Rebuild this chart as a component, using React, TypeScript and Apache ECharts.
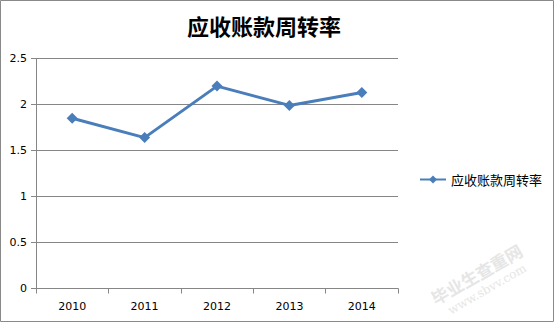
import React, { useEffect, useRef } from "react";
import * as echarts from "echarts";

const title = "应收账款周转率";
const categories = ["2010", "2011", "2012", "2013", "2014"];
const seriesName = "应收账款周转率";
const values = [1.85, 1.64, 2.2, 1.99, 2.13];
const yTicks = { min: 0, max: 2.5, interval: 0.5 };

export default function App() {
  const ref = useRef<HTMLDivElement>(null);
  useEffect(() => {
    if (!ref.current) return;
    const chart = echarts.init(ref.current, undefined, { renderer: "svg" });
    chart.setOption({
      animation: false,
      backgroundColor: "#ffffff",
      title: {
        text: title,
        left: 182,
        top: 9,
        textStyle: { fontFamily: "Noto Sans CJK SC", fontSize: 22, fontWeight: "bold", color: "#000" },
      },
      legend: {
        data: [seriesName],
        orient: "vertical",
        left: 414,
        top: 168,
        itemWidth: 26,
        itemHeight: 10,
        itemGap: 6,
        textStyle: { fontFamily: "Noto Sans CJK SC", fontSize: 13, color: "#000" },
      },
      grid: { left: 36, top: 58.5, width: 362, height: 230, containLabel: false },
      xAxis: {
        type: "category",
        data: categories,
        boundaryGap: true,
        axisLine: { lineStyle: { color: "#868686", width: 1 } },
        axisTick: { show: true, length: 5, lineStyle: { color: "#868686" } },
        axisLabel: { color: "#000", fontSize: 11, fontFamily: "DejaVu Sans", margin: 12 },
      },
      yAxis: {
        type: "value",
        min: yTicks.min,
        max: yTicks.max,
        interval: yTicks.interval,
        axisLine: { show: true, lineStyle: { color: "#868686", width: 1 } },
        axisTick: { show: true, length: 5, lineStyle: { color: "#868686" } },
        axisLabel: { color: "#000", fontSize: 11, fontFamily: "DejaVu Sans", margin: 9 },
        splitLine: { show: true, lineStyle: { color: "#868686", width: 1 } },
      },
      series: [
        {
          name: seriesName,
          type: "line",
          data: values,
          symbol: "diamond",
          symbolSize: 11,
          color: "#4a7ebb",
          lineStyle: { width: 3, color: "#4a7ebb" },
          itemStyle: { color: "#4a7ebb" },
        },
      ],
      graphic: [
        {
          type: "rect",
          shape: { x: 0.5, y: 0.5, width: 553, height: 321 },
          style: { fill: "none", stroke: "#898989", lineWidth: 1 },
          z: 100,
        },
        {
          type: "text",
          x: 428,
          y: 292,
          rotation: (30 * Math.PI) / 180,
          style: { text: "毕业生查重网", fontSize: 17, fontWeight: "bold", fill: "#e6e6e6", fontFamily: "Noto Sans CJK SC" },
          z: 0,
        },
        {
          type: "text",
          x: 446,
          y: 306,
          rotation: (30 * Math.PI) / 180,
          style: { text: "www.sbvv.com", fontSize: 12, fill: "#e6e6e6", fontFamily: "DejaVu Serif" },
          z: 0,
        },
      ],
    });
    return () => chart.dispose();
  }, []);
  return (
    <div
      ref={ref}
      style={{ position: "fixed", left: 0, top: 0, width: 555, height: 324 }}
    />
  );
}
